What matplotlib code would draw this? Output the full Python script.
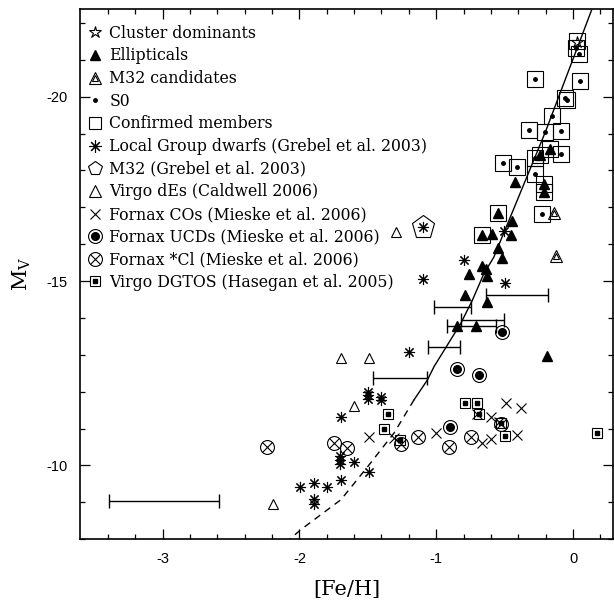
import numpy as np
import matplotlib
matplotlib.use("Agg")
import matplotlib.pyplot as plt
from matplotlib.lines import Line2D

plt.rcParams["axes.unicode_minus"] = False
plt.rcParams["mathtext.fontset"] = "dejavuserif"

# --- data ([Fe/H], M_V) ---
star_x = [0.03]
star_y = [-21.48]

ell_x = [-0.426, -0.445, -0.457, -0.59, -0.547, -0.517, -0.668, -0.639, -0.763, -0.632,
         -0.79, -0.632, -0.845, -0.712, -0.19,
         -0.243, -0.171, -0.214, -0.209, -0.547, -0.663]
ell_y = [-17.70, -16.62, -16.25, -16.28, -15.90, -15.63, -15.40, -15.34, -15.20, -15.15,
         -14.63, -14.42, -13.78, -13.78, -12.97,
         -18.42, -18.59, -17.63, -17.41, -16.86, -16.25]

ellerr_x = [-0.408, -0.882, -0.663, -0.745, -0.943, -1.264]
ellerr_y = [-14.61, -14.29, -13.94, -13.78, -13.22, -12.37]
ellerr_dx = [0.225, 0.134, 0.155, 0.18, 0.12, 0.198]

m32c_x = [-0.141, -0.127]
m32c_y = [-16.84, -15.67]

s0_x = [0.02, 0.045, -0.28, 0.053, -0.061, -0.044, -0.153, -0.321, -0.207, -0.09,
        -0.275, -0.09, -0.515, -0.413, -0.275, -0.224]
s0_y = [-21.32, -21.15, -20.49, -20.42, -19.97, -19.91, -19.48, -19.09, -19.05, -19.07,
        -18.35, -18.46, -18.2, -18.1, -17.9, -16.82]

conf_x = s0_x + [-0.243, -0.171, -0.214, -0.209, -0.547, -0.663, 0.03]
conf_y = s0_y + [-18.42, -18.59, -17.63, -17.41, -16.86, -16.25, -21.5]

lg_x = [-1.10, -0.80, -0.50, -0.506, -1.198, -1.50, -1.50, -1.50, -1.40, -1.40,
        -1.696, -1.70, -1.70, -1.70, -1.599, -1.494, -1.696, -1.798, -1.895, -1.895,
        -1.895, -1.993, -1.10]
lg_y = [-15.06, -15.58, -14.95, -16.37, -13.08, -12.0, -11.9, -11.8, -11.86, -11.78,
        -11.31, -10.25, -10.14, -10.05, -10.09, -9.82, -9.61, -9.42, -9.52, -9.10,
        -8.96, -9.41, -16.46]

m32_x = [-1.10]
m32_y = [-16.46]

vde_x = [-1.295, -1.695, -1.494, -1.60, -2.19]
vde_y = [-16.34, -12.92, -12.92, -11.61, -8.96]

fco_x = [-1.494, -1.308, -1.004, -0.70, -0.603, -0.542, -0.493, -0.384, -0.408, -0.663, -0.603]
fco_y = [-10.76, -10.74, -10.88, -11.40, -11.32, -11.19, -11.69, -11.55, -10.83, -10.61, -10.71]

ucd_x = [-0.523, -0.85, -0.688, -0.90]
ucd_y = [-13.62, -12.62, -12.44, -11.03]

fcl_x = [-2.24, -1.749, -1.655, -1.259, -1.13, -0.907, -0.743, -0.525]
fcl_y = [-10.51, -10.62, -10.47, -10.59, -10.77, -10.49, -10.76, -11.13]

dgt_x = [-1.351, -1.38, -1.266, -0.79, -0.70, -0.688, -0.50, -0.53, 0.175]
dgt_y = [-11.40, -11.0, -10.69, -11.70, -11.70, -11.40, -10.80, -11.16, -10.89]

# typical error bar, lower left
typ_x, typ_y, typ_dx = -2.99, -9.02, 0.40

# relation drawn through the points (solid where bright, dashed where faint)
rel_solid_x = [0.135, -0.201, -0.579, -0.652, -0.736, -0.821, -1.016, -1.064, -1.162]
rel_solid_y = [-22.35, -19.06, -15.65, -15.20, -14.48, -13.85, -12.68, -12.32, -11.78]
rel_dash_x = [-1.162, -1.308, -1.50, -1.696, -1.988, -2.07]
rel_dash_y = [-11.78, -10.88, -9.97, -9.07, -8.26, -8.0]

fig = plt.figure(figsize=(6.14, 6.03), dpi=100)
ax = fig.add_axes([0.131, 0.106, 0.867, 0.879])

k = "black"
lw = 0.8
ax.plot(rel_solid_x, rel_solid_y, color=k, lw=1.0)
ax.plot(rel_dash_x, rel_dash_y, color=k, lw=1.0, ls=(0, (5, 4)))

ax.errorbar(ellerr_x, ellerr_y, xerr=ellerr_dx, fmt="none", ecolor=k, elinewidth=1.0, capsize=5, capthick=1.0)
ax.errorbar([typ_x], [typ_y], xerr=[typ_dx], fmt="none", ecolor=k, elinewidth=1.0, capsize=5, capthick=1.0)

ax.plot(conf_x, conf_y, "s", ms=11.5, mfc="none", mec=k, mew=lw, ls="none")
ax.plot(s0_x, s0_y, "o", ms=2.5, color=k, ls="none")
ax.plot(ell_x, ell_y, "^", ms=6.5, color=k, ls="none")
ax.plot(star_x, star_y, "*", ms=9, mfc="none", mec=k, mew=lw, ls="none")
ax.plot(m32c_x, m32c_y, "^", ms=9, mfc="none", mec=k, mew=lw, ls="none")
ax.plot(m32c_x, m32c_y, "^", ms=5, mfc="none", mec=k, mew=lw, ls="none")
ax.plot(lg_x, lg_y, marker=(8, 2, 0), ms=8, color=k, mew=lw, ls="none")
ax.plot(m32_x, m32_y, "p", ms=17, mfc="none", mec=k, mew=lw, ls="none")
ax.plot(vde_x, vde_y, "^", ms=7.5, mfc="none", mec=k, mew=lw, ls="none")
ax.plot(fco_x, fco_y, "x", ms=7.5, color=k, mew=lw, ls="none")
ax.plot(ucd_x, ucd_y, "o", ms=10, mfc="none", mec=k, mew=lw, ls="none")
ax.plot(ucd_x, ucd_y, "o", ms=5.5, color=k, ls="none")
ax.plot(fcl_x, fcl_y, "o", ms=10, mfc="none", mec=k, mew=lw, ls="none")
ax.plot(fcl_x, fcl_y, "x", ms=7, color=k, mew=lw, ls="none")
ax.plot(dgt_x, dgt_y, "s", ms=7, mfc="none", mec=k, mew=lw, ls="none")
ax.plot(dgt_x, dgt_y, "s", ms=3.5, color=k, ls="none")

ax.set_xlim(-3.6, 0.29)
ax.set_ylim(-8.0, -22.38)
ax.set_xticks([-3, -2, -1, 0])
ax.set_xticks(np.arange(-3.4, 0.3, 0.2), minor=True)
ax.set_yticks([-20, -15, -10])
ax.set_yticks(np.arange(-22, -7.9, 1), minor=True)
ax.tick_params(which="both", direction="in", top=True, right=True, width=0.9)
ax.tick_params(which="major", length=7, pad=9, labelsize=10.5)
ax.tick_params(which="minor", length=3.8)
for lab in ax.get_xticklabels() + ax.get_yticklabels():
    lab.set_family("Liberation Sans")
for s in ax.spines.values():
    s.set_linewidth(1.2)

ax.set_xlabel("[Fe/H]", family="DejaVu Serif", fontsize=15)
ax.set_ylabel(r"$\mathrm{M_V}$", fontsize=15, rotation=90)
ax.xaxis.set_label_coords(0.5, -0.078)
ax.yaxis.set_label_coords(-0.09, 0.5)

def h(*specs):
    return tuple(Line2D([], [], ls="none", color=k, **s) for s in specs)

handles = [
    h(dict(marker="*", ms=9, mfc="none", mew=lw)),
    h(dict(marker="^", ms=6.5)),
    h(dict(marker="^", ms=9, mfc="none", mew=lw), dict(marker="^", ms=5, mfc="none", mew=lw)),
    h(dict(marker="o", ms=2.5)),
    h(dict(marker="s", ms=9, mfc="none", mew=lw)),
    h(dict(marker=(8, 2, 0), ms=9, mew=lw)),
    h(dict(marker="p", ms=10, mfc="none", mew=lw)),
    h(dict(marker="^", ms=8, mfc="none", mew=lw)),
    h(dict(marker="x", ms=7, mew=lw)),
    h(dict(marker="o", ms=10, mfc="none", mew=lw), dict(marker="o", ms=5.5)),
    h(dict(marker="o", ms=10, mfc="none", mew=lw), dict(marker="x", ms=7, mew=lw)),
    h(dict(marker="s", ms=7, mfc="none", mew=lw), dict(marker="s", ms=3.5)),
]
labels = [
    "Cluster dominants",
    "Ellipticals",
    "M32 candidates",
    "S0",
    "Confirmed members",
    "Local Group dwarfs (Grebel et al. 2003)",
    "M32 (Grebel et al. 2003)",
    "Virgo dEs (Caldwell 2006)",
    "Fornax COs (Mieske et al. 2006)",
    "Fornax UCDs (Mieske et al. 2006)",
    "Fornax *Cl (Mieske et al. 2006)",
    "Virgo DGTOS (Hasegan et al. 2005)",
]
ax.legend(handles, labels, loc="upper left", bbox_to_anchor=(0.0, 0.985), frameon=False,
          prop={"family": "DejaVu Serif", "size": 11.3}, handlelength=0.9, handletextpad=0.45,
          labelspacing=0.36, borderaxespad=0.3, borderpad=0.2)

fig.savefig("out.png", dpi=100)
